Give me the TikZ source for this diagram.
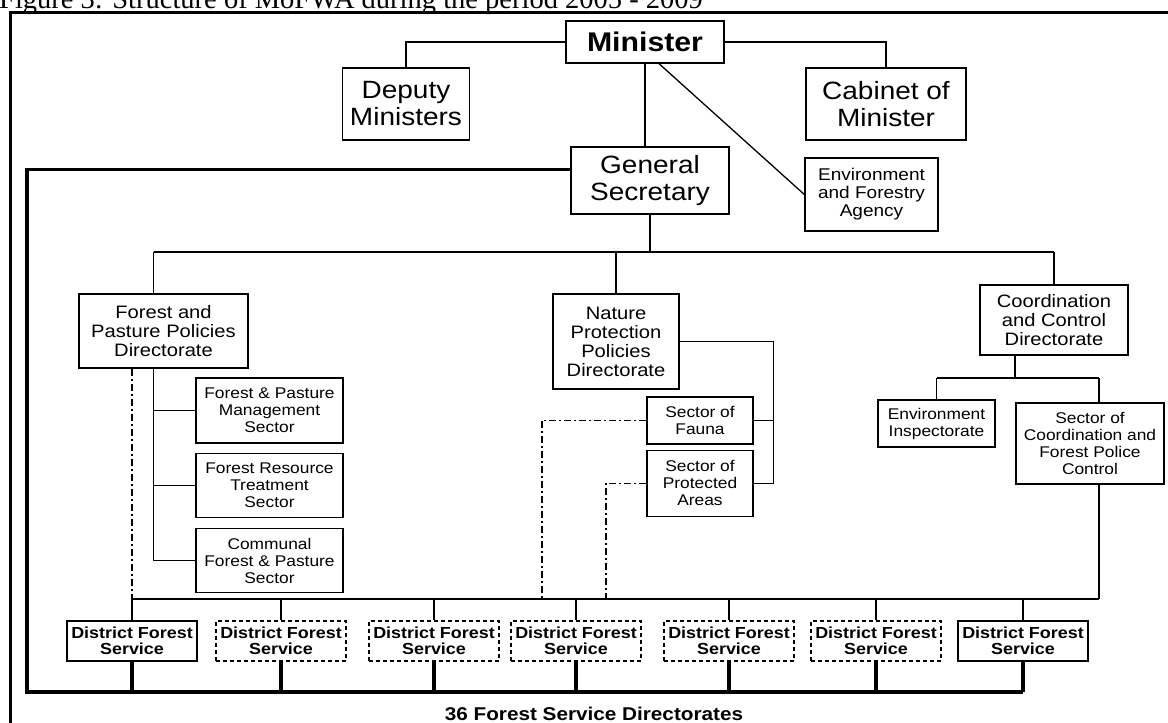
\documentclass[tikz,border=0pt]{standalone}
\usepackage{fontspec}
\setmainfont{Liberation Sans}[FakeStretch=1.12]
\newfontfamily\captionfont{Liberation Serif}
\usepackage{tikz}
\usetikzlibrary{positioning, calc}
\tikzset{
    orgbox/.style={rectangle, draw, line width=1.3pt, inner sep=0pt, align=center},
    topbox/.style={orgbox, font=\fontsize{25}{27}\selectfont},
    dirbox/.style={orgbox, font=\fontsize{18}{19}\selectfont},
    secbox/.style={orgbox, font=\fontsize{15.5}{17}\selectfont},
    dfsbox/.style={orgbox, minimum width=130pt, minimum height=40pt, font=\bfseries\fontsize{16}{16.5}\selectfont},
    dfsdash/.style={dfsbox, dash pattern=on 4pt off 3pt},
    link/.style={line width=1.3pt},
    heavy/.style={line width=3.5pt},
    dashdot/.style={line width=1.2pt, dash pattern=on 7pt off 3pt on 2pt off 3pt}
}

\begin{document}
\begin{tikzpicture}[x=1pt, y=-1pt]
    \useasboundingbox (0,0) rectangle (1168,723);
    \node (caption) [anchor=base west, inner sep=0pt, font=\captionfont\fontsize{28.5}{28.5}\selectfont] at (-1,8) {Figure 3: Structure of MoFWA during the period 2005 - 2009};
    \draw [line width=3pt] (10,740) -- (10,12) -- (1180,12);

    \node (minister) [orgbox, minimum width=158pt, minimum height=42pt, font=\bfseries\fontsize{27}{29}\selectfont] at (645,42) {Minister};
    \node (deputy) [topbox, minimum width=127pt, minimum height=72pt] at (406,104) {Deputy\\Ministers};
    \node (cabinet) [topbox, minimum width=160pt, minimum height=72pt] at (886,104) {Cabinet of\\Minister};
    \node (gs) [topbox, minimum width=158pt, minimum height=67pt] at (650,180.5) {General\\Secretary};
    \node (efa) [orgbox, minimum width=133pt, minimum height=73pt, font=\fontsize{17}{18}\selectfont] at (871.5,194.5) {Environment\\and Forestry\\Agency};

    \node (fpp) [dirbox, minimum width=169pt, minimum height=74pt] at (163.5,331) {Forest and\\Pasture Policies\\Directorate};
    \node (npp) [dirbox, minimum width=126pt, minimum height=95pt] at (616,341.5) {Nature\\Protection\\Policies\\Directorate};
    \node (cc) [dirbox, minimum width=148pt, minimum height=70pt] at (1054,320) {Coordination\\and Control\\Directorate};

    \node (fpm) [secbox, minimum width=147pt, minimum height=65pt] at (269.5,410.5) {Forest \& Pasture\\Management\\Sector};
    \node (frt) [secbox, minimum width=147pt, minimum height=64pt, below=9pt of fpm] {Forest Resource\\Treatment\\Sector};
    \node (cfp) [secbox, minimum width=147pt, minimum height=64pt, below=10pt of frt] {Communal\\Forest \& Pasture\\Sector};
    \node (fauna) [secbox, minimum width=106pt, minimum height=47pt] at (700,420.5) {Sector of\\Fauna};
    \node (pa) [secbox, minimum width=106pt, minimum height=66pt, below=5pt of fauna] {Sector of\\Protected\\Areas};
    \node (ei) [secbox, minimum width=117pt, minimum height=47pt] at (936.5,423.5) {Environment\\Inspectorate};
    \node (scfp) [secbox, minimum width=148pt, minimum height=81pt] at (1090,443.5) {Sector of\\Coordination and\\Forest Police\\Control};

    \node (dfs1) [dfsbox] at (132,641) {District Forest\\Service};
    \node (dfs2) [dfsdash] at (281,641) {District Forest\\Service};
    \node (dfs3) [dfsdash] at (434,641) {District Forest\\Service};
    \node (dfs4) [dfsdash] at (576,641) {District Forest\\Service};
    \node (dfs5) [dfsdash] at (729,641) {District Forest\\Service};
    \node (dfs6) [dfsdash] at (876,641) {District Forest\\Service};
    \node (dfs7) [dfsbox] at (1023,641) {District Forest\\Service};
    \node (total) [font=\bfseries\fontsize{18.5}{20}\selectfont] at (594,714) {36 Forest Service Directorates};

    \coordinate (dirbus) at (0,252);
    \coordinate (ccbus) at (0,378);
    \coordinate (dfsbus) at (0,599);
    \coordinate (corner) at (27,692);
    \coordinate (fppspine) at ([xshift=-10pt]fpp.south);
    \coordinate (ccspine) at ([xshift=-39pt]cc.south);
    \coordinate (scfpspine) at ([xshift=9pt]scfp.south);
    \coordinate (faunadrop) at (542,599);
    \coordinate (padrop) at (606,599);

    \draw [link] (minister.west) -| (deputy.north);
    \draw [link] (minister.east) -| (cabinet.north);
    \draw [link] (minister.south) -- (minister.south |- gs.north);
    \draw [link] ([xshift=14pt]minister.south) -- (efa.west);
    \draw [heavy] (gs.172) -- (gs.172 -| corner) -- (corner) -- (corner -| dfs7.south);

    \draw [link] (gs.south) -- (gs.south |- dirbus);
    \draw [link] (fppspine |- dirbus) -- (cc.north |- dirbus);
    \draw [link] (fppspine |- dirbus) -- (fppspine |- fpp.north);
    \draw [link] (npp.north |- dirbus) -- (npp.north);
    \draw [link] (cc.north |- dirbus) -- (cc.north);

    \draw [link] (fppspine) |- (cfp.west);
    \draw [link] (fpm.west) -- (fpm.west -| fppspine);
    \draw [link] (frt.west) -- (frt.west -| fppspine);

    \draw [link] (npp.east) -- ++(94,0) |- (pa.east);
    \draw [link] (fauna.east) -- ++(20,0);
    \draw [dashdot] (fauna.west) -| (faunadrop);
    \draw [dashdot] (pa.west) -| (padrop);

    \draw [link] (ccspine) -- (ccspine |- ccbus);
    \draw [link] (ei.north |- ccbus) -- (scfpspine |- ccbus);
    \draw [link] (ei.north |- ccbus) -- (ei.north);
    \draw [link] (scfpspine |- ccbus) -- (scfpspine |- scfp.north);
    \draw [link] (scfpspine) -- (scfpspine |- dfsbus);

    \draw [dashdot] (dfs1.north |- fpp.south) -- (dfs1.north |- dfsbus);
    \draw [link] (dfs1.north |- dfsbus) -- (scfpspine |- dfsbus);
    \foreach \d in {1,...,7} {
        \draw [link] (dfs\d.north |- dfsbus) -- (dfs\d.north);
        \draw [heavy] (dfs\d.south) -- (dfs\d.south |- corner);
    }
\end{tikzpicture}
\end{document}
